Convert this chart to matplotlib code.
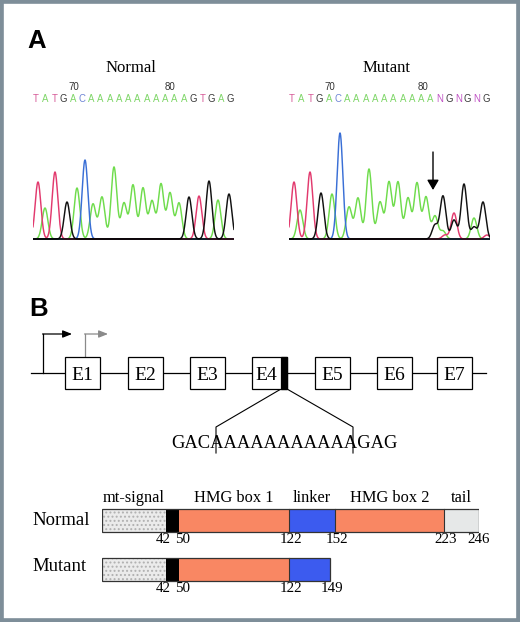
import numpy as np
import matplotlib
matplotlib.use("Agg")
import matplotlib.pyplot as plt
from matplotlib.patches import Rectangle

W, H, DPI = 520, 622, 100

# ---------------- data ----------------
normal_title = "Normal"
mutant_title = "Mutant"
seq_normal = list("TATGACAAAAAAAAAAAGTGAG")
seq_mutant = list("TATGACAAAAAAAAAANGNGNG")
ruler_labels = ["70", "80"]

# chromatogram peaks: base channel, position, height
normal_bases = list("TATGACAAAAAAAAAAGTGAG")
normal_pos = [38, 45, 55, 67, 77, 85, 93, 102, 114, 124, 133, 143, 152, 161,
              170, 179, 189, 199, 209, 218, 229]
normal_hgt = [57, 31, 67, 37, 51, 79, 35, 42, 72, 36, 54, 51, 38, 55,
              46, 36, 42, 43, 58, 39, 45]

mutant_bases = list("TATGACAAAAAAAAAAGGATTGGAGGT")
mutant_pos = [294, 300, 310, 321, 332, 340, 349, 358, 369, 380, 389, 398, 408,
              417, 426, 435, 435, 443, 443, 445, 454, 454, 464, 474, 474, 483, 487]
mutant_hgt = [57, 29, 67, 46, 45, 106, 32, 41, 70, 37, 57, 57, 41,
              56, 42, 23, 14, 43, 8, 4, 26, 19, 55, 21, 12, 37, 4]
mutation_site = 433
arrow_from, arrow_to = 87, 49

exon_names = ["E1", "E2", "E3", "E4", "E5", "E6", "E7"]
insert_seq = ["GAC", "AAAAAAAAAAA", "GAG"]

protein_rows = ["Normal", "Mutant"]
domain_names = ["mt-signal", "", "HMG box 1", "linker", "HMG box 2", "tail"]
normal_bounds = [0, 42, 50, 122, 152, 223, 246]
mutant_bounds = [0, 42, 50, 122, 149]

# ---------------- styles / layout ----------------
chan_colors = {"A": "#6fdc4c", "C": "#3a6fd6", "G": "#111111", "T": "#e23a6e"}
letter_colors = {"A": "#7fd668", "C": "#6f86d6", "G": "#3a3a3a",
                 "T": "#d65a98", "N": "#c052c4"}
domain_colors = ["#ebebeb", "#000000", "#f98763", "#3c5bef", "#f98763", "#e6e8e8"]
exon_x = [65, 128, 190, 252, 315, 377, 437]
serif = "Liberation Serif"
sans = "Liberation Sans"

plt.rcParams["hatch.linewidth"] = 0.9

fig = plt.figure(figsize=(W / DPI, H / DPI), dpi=DPI)
fig.patch.set_facecolor("white")


def px_axes(x0, y0, x1, y1):
    a = fig.add_axes([x0 / W, 1 - y1 / H, (x1 - x0) / W, (y1 - y0) / H])
    a.set_facecolor("none")
    a.axis("off")
    return a


bg = px_axes(0, 0, W, H)
bg.set_xlim(0, W)
bg.set_ylim(H, 0)

fig.patches.append(Rectangle((0, 0), 1, 1, transform=fig.transFigure, fill=False,
                             edgecolor="#7e8e99", linewidth=5.5))

# panel letters
bg.text(27, 47.5, "A", fontsize=18.5, fontweight="bold", family=sans, va="baseline")
bg.text(29, 316.5, "B", fontsize=18.5, fontweight="bold", family=sans, va="baseline")

# ---------------- chromatograms ----------------
def chromatogram(x0, x1, bases, pos, hgt, title, seq, ruler_x):
    ax = px_axes(x0, 128, x1, 240)
    ax.set_xlim(x0, x1)
    ax.set_ylim(-1, 111)
    xs = np.linspace(x0, x1, 1500)
    sig = 2.85
    for ch in ["A", "C", "T", "G"]:
        ys = np.zeros_like(xs)
        for b, p, h in zip(bases, pos, hgt):
            if b == ch:
                ys += h * np.exp(-(xs - p) ** 2 / (2 * sig ** 2))
        ax.plot(xs, ys, color=chan_colors[ch], lw=1.05, solid_joinstyle="round")
    ax.axhline(0, color="k", lw=1.1, zorder=5)
    cx = (x0 + x1) / 2 - 3
    bg.text(cx, 72, title, ha="center", va="baseline", family=serif, fontsize=12)
    lx = np.linspace(x0 + 3, x1 - 4, len(seq))
    for xx, c in zip(lx, seq):
        bg.text(xx, 102, c, ha="center", va="baseline", family=sans,
                fontsize=6.9, color=letter_colors[c])
    for xx, lab in zip(ruler_x, ruler_labels):
        bg.text(xx, 90, lab, ha="center", va="baseline", family=sans,
                fontsize=7, color="#333333")
    return ax


nax = chromatogram(33, 234, normal_bases, normal_pos, normal_hgt,
                   normal_title, seq_normal, [74, 170])
max_ = chromatogram(289, 490, mutant_bases, mutant_pos, mutant_hgt,
                    mutant_title, seq_mutant, [330, 423])
max_.annotate("", xy=(mutation_site, arrow_to), xytext=(mutation_site, arrow_from),
              arrowprops=dict(arrowstyle="-|>,head_length=0.6,head_width=0.35",
                              color="k", lw=1.0, shrinkA=0, shrinkB=0))

# ---------------- gene structure ----------------
gy, ey0, eh, ew = 373, 357, 32, 35
bg.plot([31, 486], [gy, gy], color="k", lw=0.9, zorder=1)
for xx, name in zip(exon_x, exon_names):
    bg.add_patch(Rectangle((xx, ey0), ew, eh, facecolor="white", edgecolor="k",
                           lw=0.9, zorder=3))
    cx = xx + ew / 2
    if name == "E4":
        bg.add_patch(Rectangle((xx + 29, ey0), 6, eh, facecolor="k", edgecolor="k",
                               lw=0.9, zorder=4))
        cx = xx + 14.5
    bg.text(cx, 380, name, ha="center", va="baseline", family=serif,
            fontsize=14, zorder=5)

# promoters
bg.plot([43, 43], [gy, 334], color="k", lw=0.9)
bg.annotate("", xy=(72, 334), xytext=(42.55, 334),
            arrowprops=dict(arrowstyle="-|>,head_length=0.55,head_width=0.22",
                            color="k", lw=0.9, shrinkA=0, shrinkB=0))
bg.plot([85, 85], [ey0, 334], color="#8a8a8a", lw=0.9)
bg.annotate("", xy=(108, 334), xytext=(84.55, 334),
            arrowprops=dict(arrowstyle="-|>,head_length=0.55,head_width=0.22",
                            color="#8a8a8a", lw=0.9, shrinkA=0, shrinkB=0))

# zoom on insertion
bg.plot([281, 216, 216], [389, 427, 453], color="k", lw=0.8)
bg.plot([287, 353, 353], [389, 427, 453], color="k", lw=0.8)
bg.text(284, 448, "".join(insert_seq), ha="center", va="baseline",
        family=serif, fontsize=13.3)

# ---------------- protein domains ----------------
pax = px_axes(102, 496, 479, 594)
pax.set_xlim(0, 246)
pax.set_ylim(1.5, -0.5)
bh = 0.47
num_dx = {42: -3, 50: 4, 246: 0}
for row, bounds in enumerate([normal_bounds, mutant_bounds]):
    for i in range(len(bounds) - 1):
        s, w = bounds[i], bounds[i + 1] - bounds[i]
        if i == 0:
            pax.barh(row, w, left=s, height=bh, color=domain_colors[i],
                     edgecolor="#b0b0b0", hatch="....", linewidth=0)
        else:
            pax.barh(row, w, left=s, height=bh, color=domain_colors[i], linewidth=0)
        if i >= 3:
            pax.plot([s, s], [row - bh / 2, row + bh / 2], color="#333333", lw=0.8)
    pax.barh(row, bounds[-1], left=0, height=bh, fill=False,
             edgecolor="#333333", linewidth=0.9)
    for b in bounds[1:]:
        dx = num_dx.get(b, 2)
        pax.annotate(str(b), xy=(b, row + bh / 2), xytext=(dx * 0.72, -7.9),
                     textcoords="offset points", ha="center", va="baseline",
                     family=serif, fontsize=10.8)
    if row == 0:
        for i, name in enumerate(domain_names):
            if name:
                mid = (bounds[i] + bounds[i + 1]) / 2
                pax.annotate(name, xy=(mid, row - bh / 2), xytext=(0, 5.0),
                             textcoords="offset points", ha="center",
                             va="baseline", family=serif, fontsize=11.8)

bg.text(32, 525, protein_rows[0], ha="left", va="baseline", family=serif, fontsize=13.5)
bg.text(32, 571, protein_rows[1], ha="left", va="baseline", family=serif, fontsize=13.5)

fig.savefig("out.png", dpi=DPI, facecolor="white")
